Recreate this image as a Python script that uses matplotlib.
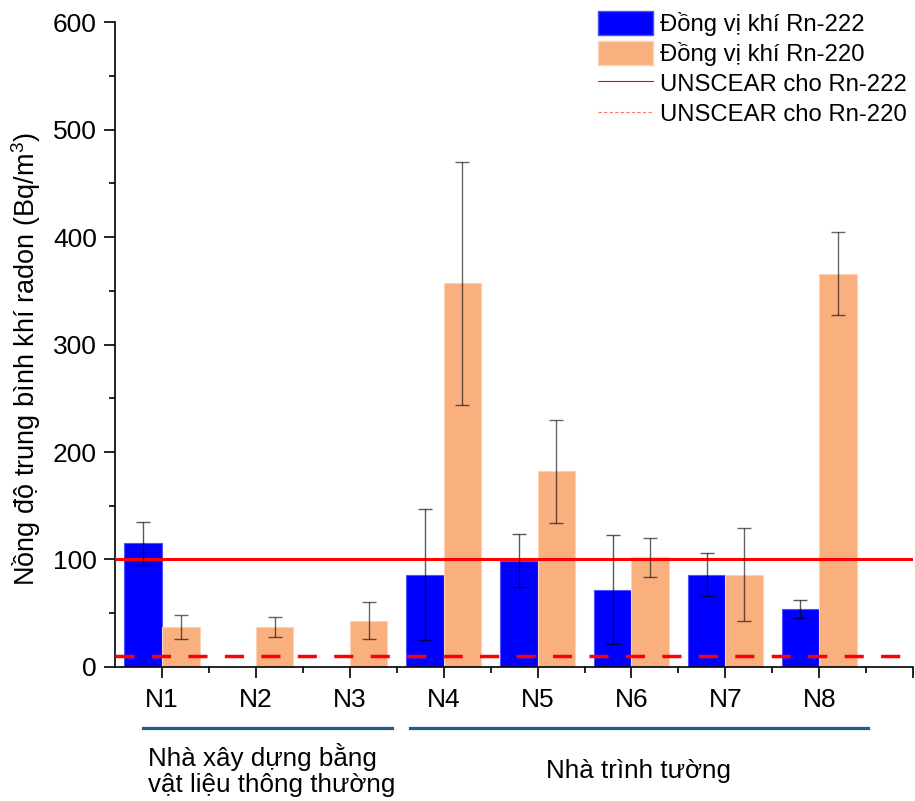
import matplotlib.pyplot as plt
from matplotlib.lines import Line2D
from matplotlib.patches import Patch
import matplotlib.transforms as mtransforms
from matplotlib.ticker import MultipleLocator, FixedLocator

plt.rcParams['font.family'] = ['Liberation Sans', 'DejaVu Sans']
plt.rcParams['mathtext.fontset'] = 'custom'
plt.rcParams['mathtext.rm'] = 'Liberation Sans'

# Data
houses = ['N1', 'N2', 'N3', 'N4', 'N5', 'N6', 'N7', 'N8']
rn222 = [115, 0, 0, 86, 99, 72, 86, 54]
rn222_err = [20, 0, 0, 61, 25, 51, 20, 8.7]
rn220 = [37, 37, 43, 357, 182, 102, 86, 366]
rn220_err = [11, 9.5, 17, 113, 48, 18, 43, 39]
unscear_222 = 100
unscear_220 = 10
groups = ['Nhà xây dựng bằng\nvật liệu thông thường', 'Nhà trình tường']

x = list(range(1, len(houses) + 1))
w = 0.4

fig = plt.figure(figsize=(9.15, 8.01), dpi=100)
ax = fig.add_axes([0.1257, 0.1673, 0.8723, 0.8052])

ax.bar([xi - w / 2 for xi in x], rn222, width=w, color='#0000ff',
       edgecolor='#5050ff', linewidth=0.8, zorder=2)
ax.bar([xi + w / 2 for xi in x], rn220, width=w, color='#faaf7e',
       edgecolor='#fcd3b5', linewidth=0.8, zorder=2)

# error bars (skip missing Rn-222 values)
x222 = [xi - w / 2 for xi, v in zip(x, rn222) if v > 0]
y222 = [v for v in rn222 if v > 0]
e222 = [e for v, e in zip(rn222, rn222_err) if v > 0]
ax.errorbar(x222, y222, yerr=e222, fmt='none', ecolor='black', alpha=0.65,
            elinewidth=1, capsize=4.7, capthick=1, zorder=5)
ax.errorbar([xi + w / 2 for xi in x], rn220, yerr=rn220_err, fmt='none',
            ecolor='black', alpha=0.6, elinewidth=1, capsize=4.7, capthick=1, zorder=5)

ax.axhline(unscear_222, color='#ff0000', lw=2.2, zorder=4)
ax.axhline(unscear_220, color='#ff0000', lw=2.5, dashes=(5.5, 5), zorder=4)

ax.set_xlim(0.5, 9)
ax.set_ylim(0, 600)
ax.set_xticks(x + [9])
ax.set_xticklabels(houses + [''])
ax.xaxis.set_minor_locator(FixedLocator([1.5, 2.5, 3.5, 4.5, 5.5, 6.5, 7.5, 8.5]))
ax.yaxis.set_major_locator(MultipleLocator(100))
ax.yaxis.set_minor_locator(MultipleLocator(50))
ax.tick_params(which='major', direction='out', length=8, width=1.2, labelsize=19)
ax.tick_params(which='minor', direction='out', length=4, width=1.2)
ax.tick_params(axis='x', which='major', pad=7)
ax.tick_params(axis='y', which='major', pad=5)
for s in ['top', 'right']:
    ax.spines[s].set_visible(False)
for s in ['left', 'bottom']:
    ax.spines[s].set_linewidth(1.2)

ax.set_ylabel('Nồng độ trung bình khí radon (Bq/m$\\mathregular{^3}$)', fontsize=19.5, labelpad=7)
ax.yaxis.label.set_y(0.477)

# group brackets below the axis
trans = mtransforms.blended_transform_factory(ax.transData, ax.transAxes)
ax.plot([0.80, 3.45], [-0.0946, -0.0946], color='#1f5f85', lw=2.3, transform=trans, clip_on=False)
ax.plot([3.64, 8.52], [-0.0946, -0.0946], color='#1f5f85', lw=2.3, transform=trans, clip_on=False)
ax.text(0.855, -0.118, groups[0], transform=trans, ha='left', va='top', fontsize=18.7, linespacing=1.12)
ax.text(6.07, -0.142, groups[1], transform=trans, ha='center', va='top', fontsize=18.7)

handles = [Patch(facecolor='#0000ff', edgecolor='#5050ff'),
           Patch(facecolor='#faaf7e', edgecolor='#fcd3b5'),
           Line2D([], [], color='#ff0000', lw=0.8),
           Line2D([], [], color='#ff7070', lw=0.8, dashes=(3, 2))]
labels = ['Đồng vị khí Rn-222', 'Đồng vị khí Rn-220', 'UNSCEAR cho Rn-222', 'UNSCEAR cho Rn-220']
ax.legend(handles, labels, loc='upper right', bbox_to_anchor=(1.004, 1.032), frameon=False,
          fontsize=17.2, handlelength=2.3, handleheight=1.15, labelspacing=0.22,
          handletextpad=0.3, borderaxespad=0)

fig.savefig('out.png', dpi=100)
